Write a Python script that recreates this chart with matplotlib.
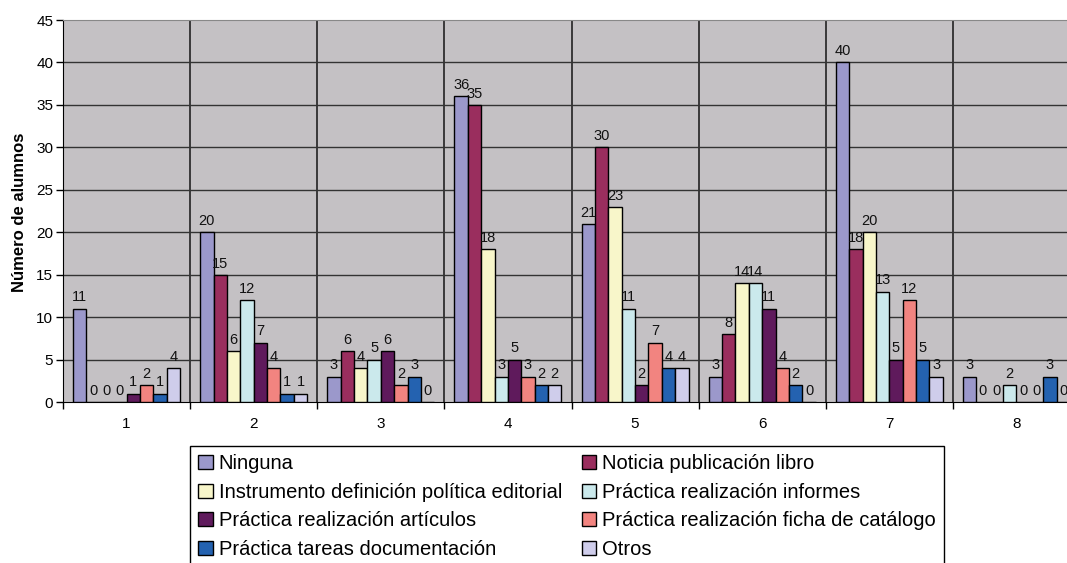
import numpy as np
import matplotlib
matplotlib.use("Agg")
import matplotlib.pyplot as plt
from matplotlib.patches import Patch

plt.rcParams['font.family'] = ['Liberation Sans', 'DejaVu Sans']

categories = ['1', '2', '3', '4', '5', '6', '7', '8']
series_names = [
    'Ninguna',
    'Noticia publicación libro',
    'Instrumento definición política editorial',
    'Práctica realización informes',
    'Práctica realización artículos',
    'Práctica realización ficha de catálogo',
    'Práctica tareas documentación',
    'Otros',
]
ninguna = [11, 20, 3, 36, 21, 3, 40, 3]
noticia = [0, 15, 6, 35, 30, 8, 18, 0]
instrumento = [0, 6, 4, 18, 23, 14, 20, 0]
informes = [0, 12, 5, 3, 11, 14, 13, 2]
articulos = [1, 7, 6, 5, 2, 11, 5, 0]
ficha = [2, 4, 2, 3, 7, 4, 12, 0]
tareas = [1, 1, 3, 2, 4, 2, 5, 3]
otros = [4, 1, 0, 2, 4, 0, 3, 0]
series_values = [ninguna, noticia, instrumento, informes, articulos, ficha, tareas, otros]
colors = ['#9B98CB', '#9A2E5E', '#F8F6CA', '#CBE9EC', '#5F1A5C', '#F28480', '#2462B0', '#CFCDEB']

W, H = 1067, 563
fig = plt.figure(figsize=(W / 100, H / 100), dpi=100)
left, right, top, bottom = 63, 1080, 20, 402
ax = fig.add_axes([left / W, 1 - bottom / H, (right - left) / W, (bottom - top) / H])
ax.set_facecolor('#C4C1C4')

bw = 1 / 9.5
x = np.arange(len(categories))
for i, (vals, col) in enumerate(zip(series_values, colors)):
    pos = x - 0.5 + 0.75 * bw + (i + 0.5) * bw
    ax.bar(pos, vals, width=bw, color=col, edgecolor='black', linewidth=1.0, zorder=3)
    for p, v in zip(pos, vals):
        ax.annotate(str(v), (p, v), xytext=(0, 3), textcoords='offset points',
                    ha='center', va='bottom', fontsize=10.5, color='#111111', zorder=4)

ax.set_xlim(-0.5, len(categories) - 0.5)
ax.set_ylim(0, 45)
ax.set_yticks(np.arange(0, 46, 5))
ax.tick_params(axis='y', labelsize=11, length=5, width=1, direction='out', pad=2)
ax.set_xticks(x)
ax.set_xticklabels(categories, fontsize=11)
ax.tick_params(axis='x', length=0, pad=11)
# category separators with tick marks below the axis
ax.set_xticks(np.arange(-0.5, len(categories), 1), minor=True)
ax.tick_params(axis='x', which='minor', length=5, width=1, direction='out')
for b in np.arange(0.5, len(categories) - 0.5, 1):
    ax.axvline(b, color='#222222', linewidth=1.2, zorder=1)
for yv in np.arange(5, 45, 5):
    ax.axhline(yv, color='#333333', linewidth=1.0, zorder=1)

ax.spines['top'].set_color('#888888')
ax.spines['right'].set_visible(False)
ax.spines['left'].set_color('black')
ax.spines['bottom'].set_color('black')

fig.text(19 / W, 1 - 212 / H, 'Número de alumnos', rotation=90, ha='center', va='center',
         fontsize=12, fontweight='bold')

handles = [Patch(facecolor=c, edgecolor='black', linewidth=1.0) for c in colors]
order = [0, 2, 4, 6, 1, 3, 5, 7]
leg = fig.legend([handles[i] for i in order], [series_names[i] for i in order],
                 loc='upper left', bbox_to_anchor=(190 / W, 1 - 446 / H), ncol=2,
                 fontsize=14.5, frameon=True, fancybox=False, edgecolor='black',
                 framealpha=1, handlelength=0.7, handleheight=0.7, handletextpad=0.3,
                 columnspacing=1.0, labelspacing=0.47, borderpad=0.42, borderaxespad=0)
leg.get_frame().set_linewidth(1.0)

fig.savefig('out.png', dpi=100)
